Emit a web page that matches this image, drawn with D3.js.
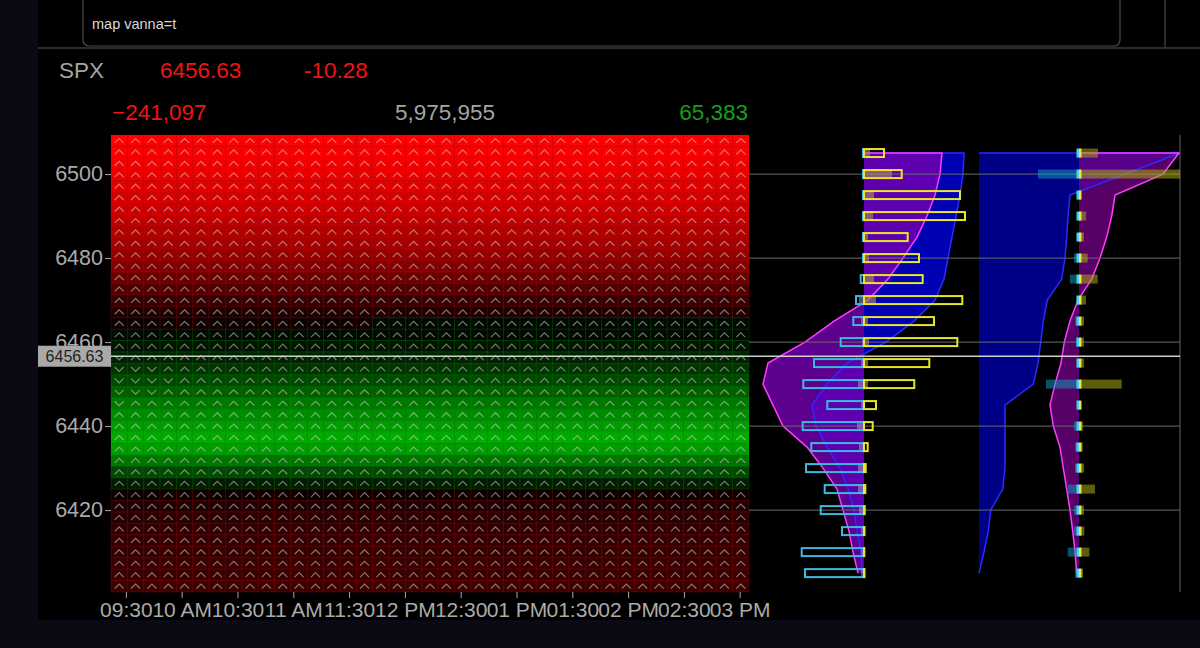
<!DOCTYPE html>
<html><head><meta charset="utf-8">
<script src="https://cdn.jsdelivr.net/npm/d3@7"></script>
<style>
html,body{margin:0;padding:0;background:#0a0a14;}
svg{display:block;font-family:"Liberation Sans",Arial,Helvetica,sans-serif;}
</style></head><body>
<svg id="chart" width="1200" height="648"></svg>
<script>
// ---------------- DATA ----------------
const command = "map vanna=t";
const symbol = "SPX";
const lastPrice = 6456.63;
const priceChange = -10.28;
const mapMin = -241097;
const mapTotal = 5975955;
const mapMax = 65383;

const mapStart = "09:22";
const mapEnd = "15:05";
const timeTicks = ["09:30","10:00","10:30","11:00","11:30","12:00","12:30","13:00","13:30","14:00","14:30","15:00"];
const timeTickLabels = ["09:30","10 AM","10:30","11 AM","11:30","12 PM","12:30","01 PM","01:30","02 PM","02:30","03 PM"];
const priceTicks = [6420, 6440, 6460, 6480, 6500];
const priceLow = 6400.5;
const priceHigh = 6509.3;
const mapColumns = 39;

// vanna per map row, top (high price) to bottom
const mapRowValues = [
  -241097, -236400, -228800, -221200, -211800, -202300, -192900, -181500,
  -168300, -155100, -139900, -122900, -102000, -76000, -50000, -28000,
  -11000, 4000, 8000, 13000, 20000, 28000, 37000, 46000,
  54000, 60000, 65383, 60000, 45000, 28000, 11000, -10000,
  -30000, -40000, -45000, -48000, -51000, -53000, -55000, -57000
];
// row 16: later columns already turned positive
const mapRowOverrides = [{row: 16, fromCol: 16, value: 3000}];
// number of leading columns whose arrow points down, per row
const downArrowCount = [
  0,0,0,0,0,0,0,0,0,0, 0,0,0,0,0,0,0,0,0,1,
  3,4,3,1,0,0,0,0,0,0, 0,0,0,0,0,0,0,0,0,0
];

const strikes = [6505,6500,6495,6490,6485,6480,6475,6470,6465,6460,6455,6450,6445,6440,6435,6430,6425,6420,6415,6410,6405];

// left profile panel
const callBars  = [20, 37.7, 96, 101, 43.7, 55, 58.7, 98.3, 70, 93.3, 65.3, 50.3, 12, 8.7, 3.7, 1.7, 1.3, 0.7, 0.5, 0.3, 0.5];
const putBars   = [-1, -1, -1, -1, -1, -1, -3.3, -8, -10.7, -23.3, -50, -60.7, -36.7, -61.3, -52.7, -58, -39.3, -43.3, -22, -62.3, -59];
const callInner = [6, 28, 10, 9, 4, 5, 10, 12, 4, 5, 4, 4, 0, 0, 0, 0, 0, 0, 0, 0, 0];
const putInner  = [0, 0, 0, 0, 0, 0, 0, -5, -3, -2, -3, -6, -3, -7, -5, -6, -6, -5, -3, -3, -3];
const profileMagenta1 = [78, 76, 71, 63, 53, 39, 24, 4, -30, -59, -96, -101, -91, -81, -57, -41, -27, -21, -15, -11, -6];
const profileBlue1    = [100, 99, 96, 92, 88, 84, 80, 71, 50, 22, -17, -37, -52, -48, -37, -24, -16, -10, -7, -3, -2];

// right profile panel
const profileMagenta2 = [100, 84, 36, 32.7, 27.7, 21, 12.7, -1, -9, -14.7, -18, -24, -29, -25.7, -19, -15.7, -12.3, -9, -6.3, -4, -2.3];
const cumulativeBlue2 = [101, 46, -9, -11, -12.3, -14, -17.3, -31.7, -35.7, -38.3, -41, -45.7, -74, -74, -74, -74, -76.3, -88.3, -90.7, -95, -100];
const callVol2 = [19, 101, 2, 7, 5, 8.7, 18.7, 7, 5, 5, 5, 42.7, 1, 4, 3.7, 5, 16, 5, 5.3, 10.3, 4];
const putVol2  = [0, -41, -1, -1, -1, -5, -9, -2.3, -4, -3, -2, -33, -2, -5, -4, -4, -11, -5, -5, -11.3, -4];

// ---------------- DRAW ----------------
const svg = d3.select("#chart");
const FONT = '"Liberation Sans",Arial,Helvetica,sans-serif';

svg.append("rect").attr("x", 38).attr("y", 0).attr("width", 1162).attr("height", 620).attr("fill", "#000");

// command box
svg.append("rect").attr("x", 83).attr("y", -12).attr("width", 1037).attr("height", 58).attr("rx", 6)
  .attr("fill", "#000").attr("stroke", "#4a4a4a").attr("stroke-width", 1.2);
svg.append("text").attr("x", 92).attr("y", 29).attr("font-size", 14.5).attr("fill", "#d8d8d8").text(command);
svg.append("line").attr("x1", 38).attr("x2", 1200).attr("y1", 48).attr("y2", 48).attr("stroke", "#3a3a3a").attr("stroke-width", 1.5);
svg.append("line").attr("x1", 1165).attr("x2", 1165).attr("y1", 0).attr("y2", 48).attr("stroke", "#3a3a3a").attr("stroke-width", 1.5);

// header
const red = "#f01414", green = "#1c9c1c", gray = "#a4a4a4";
const HF = 22.5;
svg.append("text").attr("x", 59).attr("y", 78).attr("font-size", HF).attr("fill", gray).text(symbol);
svg.append("text").attr("x", 160).attr("y", 78).attr("font-size", HF).attr("fill", priceChange < 0 ? red : green).text(lastPrice.toFixed(2));
svg.append("text").attr("x", 304).attr("y", 78).attr("font-size", HF).attr("fill", priceChange < 0 ? red : green).text(priceChange.toFixed(2));

const fmt = d3.format(",");
svg.append("text").attr("x", 112).attr("y", 120).attr("font-size", HF).attr("fill", red).text(fmt(mapMin));
svg.append("text").attr("x", 445).attr("y", 120).attr("font-size", HF).attr("text-anchor", "middle").attr("fill", gray).text(fmt(mapTotal));
svg.append("text").attr("x", 748).attr("y", 120).attr("font-size", HF).attr("text-anchor", "end").attr("fill", green).text(fmt(mapMax));

// scales
const parseT = d3.timeParse("%H:%M");
const x = d3.scaleTime().domain([parseT(mapStart), parseT(mapEnd)]).range([111, 749]);
const y = d3.scaleLinear().domain([priceLow, priceHigh]).range([592, 135]);
const col = d3.scaleBand().domain(d3.range(mapColumns)).range(x.range());
const nRows = mapRowValues.length;
const rowStep = (priceHigh - priceLow) / nRows;

const redScale = d3.interpolateRgb("#000000", "#ff0000");
const greenScale = d3.interpolateRgb("#000000", "#00aa00");
function cellColor(v) {
  return v < 0 ? redScale(Math.min(1, v / mapMin)) : greenScale(Math.min(1, v / mapMax));
}

const cells = [];
mapRowValues.forEach((rv, r) => {
  for (let c = 0; c < mapColumns; c++) {
    let v = rv;
    mapRowOverrides.forEach(o => { if (o.row === r && c >= o.fromCol) v = o.value; });
    cells.push({r, c, v, down: c < downArrowCount[r]});
  }
});

const gMap = svg.append("g");
gMap.selectAll("rect.cell").data(cells).join("rect").attr("class", "cell")
  .attr("x", d => col(d.c))
  .attr("y", d => y(priceHigh - d.r * rowStep))
  .attr("width", col.bandwidth())
  .attr("height", d => y(priceHigh - (d.r + 1) * rowStep) - y(priceHigh - d.r * rowStep))
  .attr("fill", d => cellColor(d.v))
  .attr("stroke", d => d.v < 0 ? "#ff1010" : "#10c010")
  .attr("stroke-opacity", 0.22)
  .attr("stroke-width", 0.8);

gMap.selectAll("path.arrow").data(cells).join("path").attr("class", "arrow")
  .attr("transform", d => `translate(${col(d.c) + col.bandwidth() / 2},${y(priceHigh - (d.r + 0.5) * rowStep)})`)
  .attr("d", d => d.down ? "M-4.5,-2.2 L0,2.2 L4.5,-2.2" : "M-4.5,2.2 L0,-2.2 L4.5,2.2")
  .attr("fill", "none").attr("stroke", "rgba(210,210,210,0.55)").attr("stroke-width", 1.2);

// axes
const xAxis = d3.axisBottom(x).tickValues(timeTicks.map(parseT))
  .tickFormat((d, i) => timeTickLabels[i]).tickSize(6).tickPadding(4);
const gx = svg.append("g").attr("transform", "translate(0,592)").call(xAxis);
gx.select(".domain").remove();
gx.selectAll("line").attr("stroke", "#aaa");
gx.selectAll("text").attr("fill", "#aaa").attr("font-size", 21).attr("font-family", FONT);

const yAxis = d3.axisLeft(y).tickValues(priceTicks).tickFormat(d3.format("d")).tickSize(6).tickPadding(2);
const gy = svg.append("g").attr("transform", "translate(111,0)").call(yAxis);
gy.select(".domain").remove();
gy.selectAll("line").attr("stroke", "#aaa");
gy.selectAll("text").attr("fill", "#aaa").attr("font-size", 21.5).attr("font-family", FONT);

// ------------- profile panels -------------
const rows = strikes.map((s, i) => ({
  s, call: callBars[i], put: putBars[i], ci: callInner[i], pi: putInner[i],
  m1: profileMagenta1[i], b1: profileBlue1[i], m2: profileMagenta2[i], b2: cumulativeBlue2[i],
  cv: callVol2[i], pv: putVol2[i]
}));
const p1 = d3.scaleLinear().domain([-100, 100]).range([764, 964]);
const p2 = d3.scaleLinear().domain([-100, 100]).range([979, 1179]);
const topStrike = strikes[0];

// panel 1 areas
const area1b = d3.area().y(d => y(d.s)).x0(p1(0)).x1(d => p1(d.b1));
const area1m = d3.area().y(d => y(d.s)).x0(p1(0)).x1(d => p1(d.m1));
svg.append("path").datum(rows).attr("d", area1b).attr("fill", "rgba(0,0,210,0.85)");
svg.append("path").datum(rows).attr("d", area1m).attr("fill", "rgba(115,0,175,0.82)");
const line1b = d3.line().y(d => y(d.s)).x(d => p1(d.v));
svg.append("path").datum([{s: topStrike, v: 0}].concat(rows.map(d => ({s: d.s, v: d.b1}))))
  .attr("d", line1b).attr("fill", "none").attr("stroke", "#2a2aff").attr("stroke-width", 1.5);
svg.append("path").datum([{s: topStrike, v: 0}].concat(rows.map(d => ({s: d.s, v: d.m1}))))
  .attr("d", line1b).attr("fill", "none").attr("stroke", "#ff3cff").attr("stroke-width", 1.5);

// panel 2 areas
const area2b = d3.area().y(d => y(d.s)).x0(p2(-100)).x1(d => p2(d.b2));
const area2m = d3.area().y(d => y(d.s)).x0(p2(0)).x1(d => p2(d.m2));
svg.append("path").datum(rows).attr("d", area2b).attr("fill", "rgba(0,0,150,0.9)");
svg.append("path").datum(rows).attr("d", area2m).attr("fill", "rgba(120,0,140,0.72)");
svg.append("path").datum([{s: topStrike, v: -100}].concat(rows.map(d => ({s: d.s, v: d.b2}))))
  .attr("d", d3.line().y(d => y(d.s)).x(d => p2(d.v))).attr("fill", "none").attr("stroke", "#2a2aff").attr("stroke-width", 1.5);
svg.append("path").datum([{s: topStrike, v: 0}].concat(rows.map(d => ({s: d.s, v: d.m2}))))
  .attr("d", d3.line().y(d => y(d.s)).x(d => p2(d.v))).attr("fill", "none").attr("stroke", "#ff3cff").attr("stroke-width", 1.5);

// gridlines over panels
svg.selectAll("line.pgrid").data(priceTicks).join("line").attr("class", "pgrid")
  .attr("x1", 749).attr("x2", 1180).attr("y1", d => y(d)).attr("y2", d => y(d))
  .attr("stroke", "#6a6a6a").attr("stroke-opacity", 0.8).attr("stroke-width", 1.2);
svg.append("line").attr("x1", 1180).attr("x2", 1180).attr("y1", 135).attr("y2", 592)
  .attr("stroke", "#555").attr("stroke-width", 1.2);

// panel 1 bars
const bh = 8;
svg.selectAll("rect.pi").data(rows.filter(d => d.pi < 0)).join("rect").attr("class", "pi")
  .attr("x", d => p1(d.pi)).attr("width", d => p1(0) - p1(d.pi)).attr("y", d => y(d.s) - bh / 2).attr("height", bh)
  .attr("fill", "rgba(150,160,175,0.55)");
svg.selectAll("rect.ci").data(rows.filter(d => d.ci > 0)).join("rect").attr("class", "ci")
  .attr("x", p1(0)).attr("width", d => p1(d.ci) - p1(0)).attr("y", d => y(d.s) - bh / 2).attr("height", bh)
  .attr("fill", "rgba(170,135,95,0.65)");
svg.selectAll("rect.put").data(rows).join("rect").attr("class", "put")
  .attr("x", d => p1(d.put)).attr("width", d => p1(0) - p1(d.put)).attr("y", d => y(d.s) - bh / 2).attr("height", bh)
  .attr("fill", "none").attr("stroke", "#3cb8e0").attr("stroke-width", 2);
svg.selectAll("rect.call").data(rows).join("rect").attr("class", "call")
  .attr("x", p1(0)).attr("width", d => p1(d.call) - p1(0)).attr("y", d => y(d.s) - bh / 2).attr("height", bh)
  .attr("fill", "none").attr("stroke", "#e6e62a").attr("stroke-width", 2);

// panel 2 bars
svg.selectAll("rect.pv").data(rows).join("rect").attr("class", "pv")
  .attr("x", d => p2(d.pv)).attr("width", d => p2(0) - p2(d.pv)).attr("y", d => y(d.s) - 4.5).attr("height", 9)
  .attr("fill", "rgba(20,150,190,0.55)");
svg.selectAll("rect.cv").data(rows).join("rect").attr("class", "cv")
  .attr("x", p2(0)).attr("width", d => p2(d.cv) - p2(0)).attr("y", d => y(d.s) - 4.5).attr("height", 9)
  .attr("fill", "rgba(170,170,20,0.55)");
svg.selectAll("rect.dc").data(rows).join("rect").attr("class", "dc")
  .attr("x", p2(0) - 2.5).attr("width", 2.5).attr("y", d => y(d.s) - 4.5).attr("height", 9).attr("fill", "#48d0f0");
svg.selectAll("rect.dy").data(rows).join("rect").attr("class", "dy")
  .attr("x", p2(0)).attr("width", 2.5).attr("y", d => y(d.s) - 4.5).attr("height", 9).attr("fill", "#e8e83a");

// price line + label
svg.append("line").attr("x1", 111).attr("x2", 1180).attr("y1", y(lastPrice)).attr("y2", y(lastPrice))
  .attr("stroke", "#cfcfcf").attr("stroke-width", 1.5);
svg.append("rect").attr("x", 38).attr("y", y(lastPrice) - 10.5).attr("width", 73).attr("height", 21).attr("fill", "#a9a9a9");
svg.append("text").attr("x", 74.5).attr("y", y(lastPrice) + 6).attr("text-anchor", "middle")
  .attr("font-size", 16).attr("fill", "#222").text(lastPrice.toFixed(2));
</script>
</body></html>
